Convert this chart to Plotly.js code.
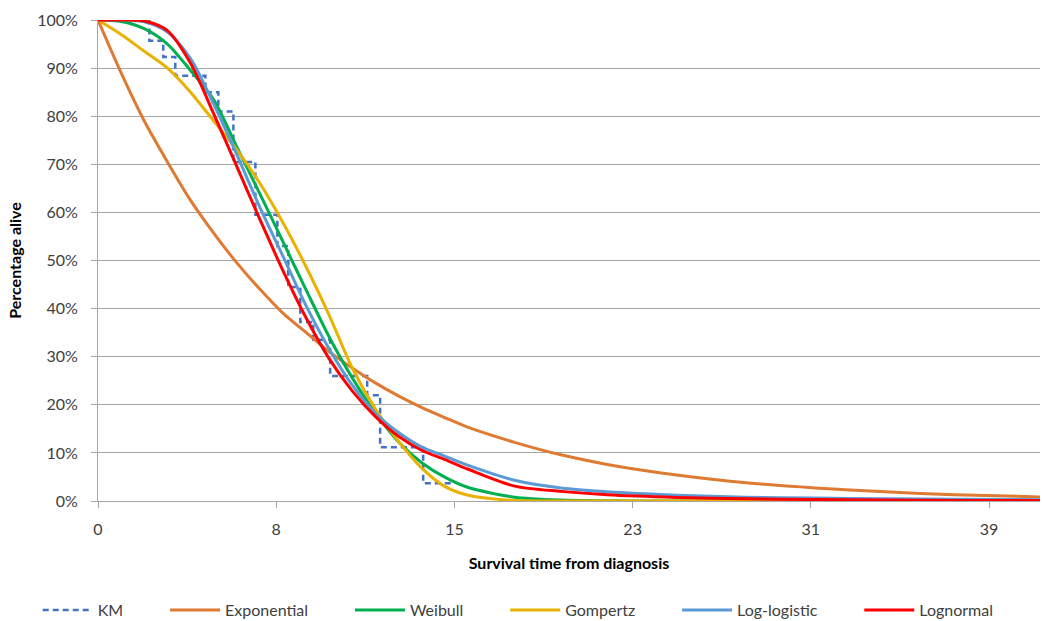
<!DOCTYPE html>
<html>
<head>
<meta charset="utf-8">
<script src="https://cdn.plot.ly/plotly-3.0.1.min.js"></script>
<style>
  html, body { margin: 0; padding: 0; background: #ffffff; }
  #chart { width: 1043px; height: 621px; }
</style>
</head>
<body>
<div id="chart"></div>
<script>
// ---- Data ----
// Axis labels (category-style labels of the original chart)
const xTickVals = [0, 7.7, 15.4, 23.1, 30.8, 38.5];
const xTickText = ["0", "8", "15", "23", "31", "39"];

// Kaplan-Meier step function (time at which each level starts, level in %)
const kmTime  = [0, 2.22, 2.82, 3.34, 4.64, 5.2, 5.85, 6.8, 7.75, 8.22, 8.74, 9.3, 10.03, 11.63, 12.19, 14.05, 15.3];
const kmValue = [100, 95.7, 92.3, 88.4, 85, 81, 70.5, 59.5, 53, 44.5, 37.2, 33.5, 26, 22, 11.2, 3.7, 3.7];

// Fitted curves, read at these times
const fitTime     = [0, 1, 2, 3, 4, 5, 6, 7, 8, 9, 10, 11, 12, 13, 14, 15, 16, 18, 20, 22, 25, 28, 31, 34, 37, 40.7];
const exponential = [100, 89, 79, 70.5, 62.5, 55.7, 49.5, 44, 39, 35, 31, 27.6, 24.5, 21.8, 19.4, 17.3, 15.3, 12.2, 9.6, 7.6, 5.4, 3.8, 2.7, 1.9, 1.3, 0.85];
const weibull     = [100, 99.7, 98.2, 95, 89.5, 83.4, 73.6, 63.8, 53.8, 43.8, 34, 25.5, 18.2, 12.2, 7.9, 4.9, 2.8, 0.8, 0.2, 0.05, 0, 0, 0, 0, 0, 0];
const gompertz    = [100, 97, 93.5, 90, 85, 79, 73, 66, 57.8, 48.6, 38.5, 27.5, 19, 12.3, 6.8, 3, 1.2, 0.1, 0, 0, 0, 0, 0, 0, 0, 0];
const logLogistic = [100, 100, 99.6, 97.5, 92, 82.5, 72, 61, 50.8, 40.5, 31.5, 24, 18.2, 14.2, 11.2, 9.3, 7.4, 4.3, 2.7, 1.9, 1.2, 0.8, 0.6, 0.45, 0.35, 0.28];
const lognormal   = [100, 100, 99.8, 97.8, 91, 80.5, 69.5, 58.5, 47.8, 38, 29.5, 22.8, 17.5, 13.4, 10.5, 8.6, 6.6, 3.1, 2, 1.3, 0.75, 0.45, 0.3, 0.2, 0.12, 0.08];

const seriesNames  = ["Exponential", "Weibull", "Gompertz", "Log-logistic", "Lognormal"];
const seriesValues = [exponential, weibull, gompertz, logLogistic, lognormal];
const seriesColors = ["#DE7A32", "#00B050", "#E9B100", "#5B9BD5", "#FF0000"];

const FONT = "Lato, 'Open Sans', sans-serif";
// invisible trailing padding to reproduce the wide spacing of the original legend
const PAD = "\u00A0".repeat(9);

const traces = [{
  type: "scatter", mode: "lines", name: "KM" + PAD,
  x: kmTime, y: kmValue,
  line: { color: "#4472C4", width: 2.5, dash: "6px,4px", shape: "hv" },
  hoverinfo: "x+y"
}];
seriesNames.forEach((n, i) => {
  traces.push({
    type: "scatter", mode: "lines", name: n + (i < seriesNames.length - 1 ? PAD : ""),
    x: fitTime, y: seriesValues[i],
    line: { color: seriesColors[i], width: 3, shape: "spline", smoothing: 0.8 }
  });
});

const layout = {
  width: 1043, height: 621,
  paper_bgcolor: "#ffffff", plot_bgcolor: "#ffffff",
  margin: { l: 98, r: 3, t: 20, b: 120, autoexpand: false },
  font: { family: FONT, size: 16, color: "#404040" },
  showlegend: true,
  legend: {
    orientation: "h", x: -0.064, xanchor: "left", y: -0.227, yanchor: "middle",
    font: { family: FONT, size: 16, color: "#404040" },
    itemwidth: 50, tracegroupgap: 0
  },
  xaxis: {
    range: [0, 40.7],
    tickmode: "array", tickvals: xTickVals, ticktext: xTickText,
    showgrid: false, zeroline: false,
    showline: true, linecolor: "#A6A6A6", linewidth: 1,
    ticks: "outside", ticklen: 6, tickcolor: "#A6A6A6",
    ticklabelstandoff: 8,
    tickfont: { family: FONT, size: 16, color: "#404040" },
    title: { text: "<b>Survival time from diagnosis</b>", font: { family: FONT, size: 16, color: "#000000" }, standoff: 20 }
  },
  yaxis: {
    range: [0, 100],
    tickmode: "linear", tick0: 0, dtick: 10, ticksuffix: "%",
    showgrid: true, gridcolor: "#A6A6A6", gridwidth: 1,
    zeroline: false,
    showline: true, linecolor: "#A6A6A6", linewidth: 1,
    ticks: "outside", ticklen: 6, tickcolor: "#A6A6A6",
    ticklabelstandoff: 10,
    tickfont: { family: FONT, size: 16, color: "#404040" },
    title: { text: "<b>Percentage alive</b>", font: { family: FONT, size: 16, color: "#000000" }, standoff: 11 }
  }
};

Plotly.newPlot("chart", traces, layout, { displayModeBar: false, responsive: false });
</script>
</body>
</html>
